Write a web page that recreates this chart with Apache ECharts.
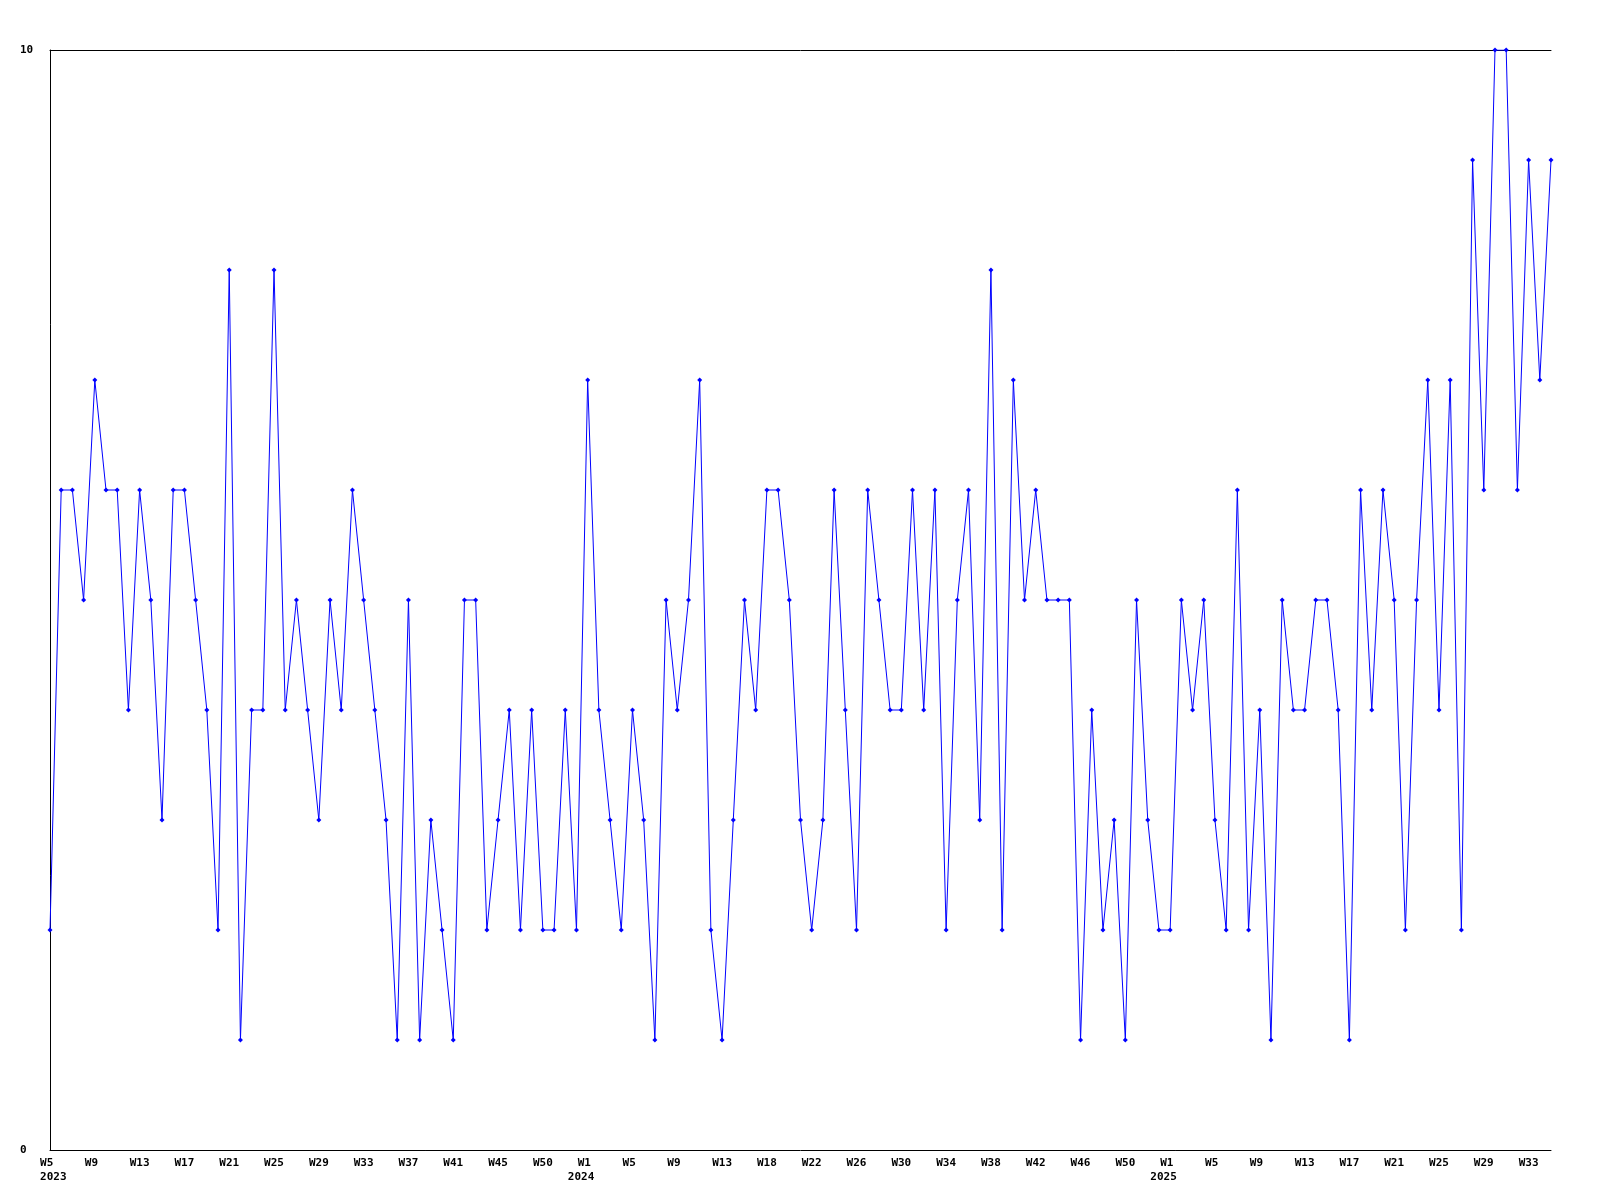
<!DOCTYPE html>
<html>
<head>
<meta charset="utf-8">
<script src="https://cdn.jsdelivr.net/npm/echarts@6/dist/echarts.min.js"></script>
<style>
  html, body { margin: 0; padding: 0; background: #ffffff; }
  #chart { width: 1600px; height: 1200px; }
</style>
</head>
<body>
<div id="chart"></div>
<script>
// Weekly values
const values2023 = [2,6,6,5,7,6,6,4,6,5, 3,6,6,5,4,2,8,1,4,4, 8,4,5,4,3,5,4,6,5,4, 3,1,5,1,3,2,1,5,5,2, 3,4,2,4,2,2,4,2];
const values2024 = [7,4,3,2,4,3,1,5,4,5, 7,2,1,3,5,4,6,6,5,3, 2,3,6,4,2,6,5,4,4,6, 4,6,2,5,6,3,8,2,7,5, 6,5,5,5,1,4,2,3,1,5, 3,2];
const values2025 = [2,5,4,5,3,2,6,2,4,1, 5,4,4,5,5,4,1,6,4,6, 5,2,5,7,4,7,2,9,6,10, 10,6,9,7,9];

// Week ranges per year (categories)
const weeks2023 = [5, 52];
const weeks2024 = [1, 52];
const weeks2025 = [1, 35];

// Tick labels shown every 4th category, as printed in the reference
const tickLabels = ['W5','W9','W13','W17','W21','W25','W29','W33','W37','W41','W45','W50',
                    'W1','W5','W9','W13','W18','W22','W26','W30','W34','W38','W42','W46','W50',
                    'W1','W5','W9','W13','W17','W21','W25','W29','W33'];
const yearLabels = { 0: ' 2023', 48: '2024  ', 100: '2025  ' };
const yTickLabels = ['0', '10'];

const categories = [];
[[2023, weeks2023], [2024, weeks2024], [2025, weeks2025]].forEach(function (p) {
  for (let w = p[1][0]; w <= p[1][1]; w++) categories.push(p[0] + '-W' + w);
});
const values = values2023.concat(values2024, values2025);

const font = { fontFamily: 'DejaVu Sans Mono', fontWeight: 'bold', fontSize: 11, color: '#000' };

const chart = echarts.init(document.getElementById('chart'), null, { renderer: 'canvas' });
chart.setOption({
  animation: false,
  backgroundColor: '#ffffff',
  grid: { left: 50, right: 49, top: 50, bottom: 50, containLabel: false },
  xAxis: [{
    type: 'category',
    data: categories,
    boundaryGap: false,
    axisLine: { show: true, lineStyle: { color: '#000', width: 1 } },
    axisTick: { show: false },
    splitLine: { show: false },
    axisLabel: Object.assign({
      margin: 6,
      lineHeight: 14,
      align: 'center',
      interval: function (i) { return i % 4 === 0; },
      formatter: function (v, i) {
        let t = tickLabels[i / 4] || '';
        if (t.length === 2) t = t + ' ';
        if (yearLabels[i] !== undefined) t += '\n' + yearLabels[i];
        return t;
      }
    }, font)
  }, {
    type: 'category',
    data: categories,
    position: 'top',
    boundaryGap: false,
    axisLine: { show: true, lineStyle: { color: '#000', width: 1 } },
    axisTick: { show: false },
    axisLabel: { show: false },
    splitLine: { show: false }
  }],
  yAxis: {
    type: 'value',
    min: 0,
    max: 10,
    interval: 10,
    axisLine: { show: true, lineStyle: { color: '#000', width: 1 } },
    axisTick: { show: false },
    splitLine: { show: false },
    axisLabel: Object.assign({
      margin: 30,
      align: 'left',
      formatter: function (v) { return v === 0 ? yTickLabels[0] : (v === 10 ? yTickLabels[1] : ''); }
    }, font)
  },
  series: [{
    type: 'line',
    data: values,
    xAxisIndex: 0,
    symbol: 'diamond',
    symbolSize: 5,
    showSymbol: true,
    lineStyle: { color: '#0000ff', width: 1 },
    itemStyle: { color: '#0000ff', borderWidth: 0 },
    emphasis: { disabled: true }
  }]
});
</script>
</body>
</html>
